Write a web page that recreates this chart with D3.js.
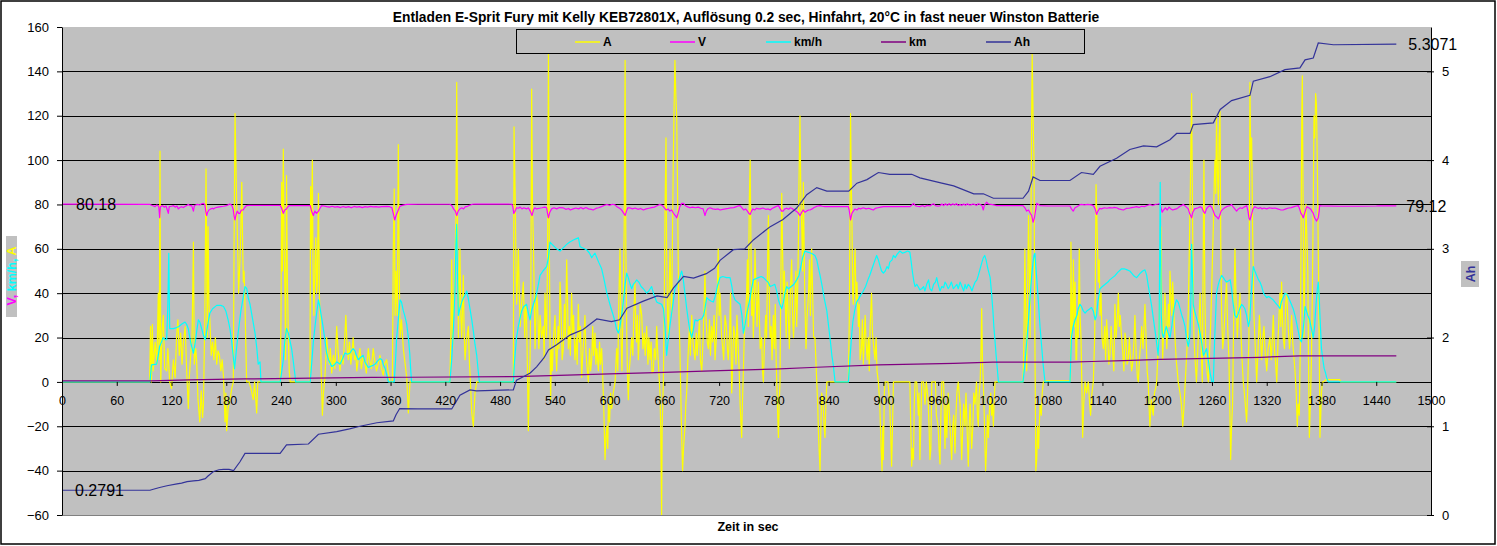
<!DOCTYPE html>
<html lang="de">
<head>
<meta charset="UTF-8">
<title>Entladen E-Sprit Fury</title>
<script src="https://cdn.jsdelivr.net/npm/d3@7"></script>
<style>
    body { margin: 0; background: #fff; }
    text { font-family: Arial, "Liberation Sans", sans-serif; }
</style>
</head>
<body>
<div id="chart"></div>
<script>
// time in sec
const ampData = [[0,0],[96,0],[97,25],[98,0],[99,26],[100,5],[102,18],[104,8],[105.5,40],[106.5,10],[107.4,104],[108.2,0],[109.5,22],[111,30],[112.5,6],[114.7,5],[116,15],[118,0],[120,-3],[122,10],[124,2],[125.5,20],[127,28],[128.5,12],[130,22],[131.5,8],[133,18],[135,25],[136.5,6],[138.4,-12],[139.5,2],[141,12],[142.5,20],[144,63],[145,8],[146.5,15],[147.5,10],[149,-8],[151,-18],[152.5,-4],[154,-16],[155,-10],[156.5,30],[157.8,96],[159.2,20],[160,70],[161,35],[162,28],[163.5,12],[165,18],[166.5,10],[168,20],[169.5,8],[171,14],[172.5,12],[174,5],[175.5,10],[177,2],[178.6,-18],[179.5,-5],[180.4,-22],[182,-12],[184,-8],[186,-3],[187.7,0],[188.5,60],[189.6,121],[190.5,100],[191.4,80],[192.5,60],[193.5,40],[195,55],[196,70],[197,90],[198,60],[198.7,45],[199.5,50],[200.5,35],[201.5,15],[202.3,0],[205,0],[207,-3],[209.6,-8],[211,0],[213.3,-14],[214.5,0],[239,0],[240,30],[240.7,90],[241.5,50],[242.5,105],[243.5,60],[244.3,40],[245,10],[246,93],[247,45],[248,20],[249,5],[250,0],[271.7,0],[272.4,88],[273.3,60],[274.3,100],[275,55],[276,30],[277,50],[278,65],[279,40],[279.8,45],[280.5,70],[281,85],[282,40],[283,25],[284,5],[285.3,-15],[286.5,-5],[288,2],[289,10],[290,20],[291.5,12],[293,8],[294,15],[295.5,4],[297.3,12],[299,6],[301,25],[302.5,14],[304.6,5],[306,12],[308,8],[309.5,18],[311,30],[312.5,15],[313.7,10],[315,18],[316.5,8],[318,14],[319,20],[320.5,10],[322,12],[323,5],[324.5,10],[326.5,15],[328,6],[330,12],[332,8],[333.5,4],[335.6,15],[337,10],[339,6],[341,15],[342.5,10],[344.6,5],[346.5,8],[348.4,12],[350,6],[352,3],[353.5,8],[355.7,10],[357.5,4],[359.4,0],[362,0],[363,60],[364,87],[365,30],[366,50],[367.4,30],[368.5,107],[369.5,50],[370.4,20],[372,28],[374,15],[376,8],[377.7,2],[379.5,-14],[381.3,0],[425,0],[426,20],[427,55],[428,15],[428.8,30],[430,45],[431.5,70],[432.5,135],[433.5,60],[434.3,20],[435.2,45],[436,60],[437,30],[438,20],[439.7,48],[440.5,25],[441.6,10],[443,18],[445.2,25],[446.5,8],[447.5,0],[449,-14],[450.7,-20],[452.5,-5],[454.4,0],[494.5,0],[495.3,115],[496.7,80],[497.5,50],[498.2,35],[499,45],[500,60],[501,40],[502,25],[503.5,35],[505.5,45],[507,20],[508,35],[509,30],[510,5],[511,-22],[511.8,0],[512.8,10],[513.7,40],[514.6,132],[515.5,80],[516.4,65],[517.4,40],[518.3,15],[519,25],[520,40],[521,35],[522.5,15],[523.8,30],[525.5,20],[527.4,25],[528.3,10],[529.2,40],[530,30],[531,20],[532,55],[533,148],[534,60],[534.7,20],[535.4,-8],[536.4,15],[537.3,5],[538.5,20],[540.2,30],[541,15],[542,5],[543.5,25],[544.5,15],[545.7,45],[547,30],[548,10],[549.3,15],[550.5,35],[551.5,20],[553,55],[554,35],[554.8,15],[556,25],[557,12],[558.4,40],[559.5,22],[560.5,30],[562,10],[563.5,20],[564.5,8],[565.7,35],[567,18],[568,25],[569.4,2],[570.5,12],[571.8,20],[573,30],[574,14],[575,8],[576.7,0],[578,15],[579.2,5],[580.4,10],[581.5,25],[582.5,12],[584,22],[585,8],[586,15],[587.7,5],[589,18],[590,8],[591.3,15],[592.5,2],[593.5,-10],[595,-35],[596,-25],[597,-20],[598,-30],[598.6,-10],[600,-18],[601,-5],[602.3,-12],[604,-5],[606,0],[607.7,15],[609,5],[610,35],[611.4,60],[612.5,20],[613.5,5],[615,40],[616,70],[617,145],[617.8,60],[618.7,25],[619.5,5],[620.5,-8],[621.5,5],[622.5,10],[624.2,20],[625.5,12],[626.5,30],[627.8,45],[628.7,25],[629.5,18],[630.5,30],[631.5,10],[632.5,20],[633.5,35],[635.2,30],[636.5,15],[638,22],[639,12],[640.6,25],[642,8],[643,20],[644.3,10],[645.5,18],[646.5,4],[648,5],[649,15],[650.5,10],[651.6,25],[652.5,15],[653.5,8],[655.2,-5],[656,-20],[657,-60],[657.6,-20],[658.9,0],[660,40],[660.8,80],[661.8,110],[662.5,60],[663.5,30],[664.4,20],[665.2,40],[666.2,60],[667,45],[668,30],[669,70],[669.8,100],[670.7,125],[671.6,145],[672.5,130],[673.5,120],[674.4,90],[675.3,50],[676,30],[677,15],[678,-5],[679,-25],[680,-40],[681,-30],[682.6,-20],[683.5,-10],[684.4,-5],[685.3,5],[686.3,15],[687.5,25],[688.5,12],[690,30],[691,20],[692,15],[693.6,10],[695,22],[696,12],[697.2,20],[698.5,28],[699.5,10],[701,5],[702.5,20],[703.5,35],[704.5,50],[705.5,30],[707,18],[708.2,15],[709.5,28],[710.5,12],[711.8,25],[713,18],[714.5,30],[715.5,10],[717,20],[718,40],[719,60],[720,30],[721,40],[722.8,20],[724,15],[725,10],[726.5,30],[728,25],[729,15],[730,10],[731.5,22],[732.5,40],[733.8,-5],[735,10],[736,25],[737.4,20],[738.5,8],[739.5,30],[741,15],[742,5],[743,-10],[744.7,-25],[745.5,-10],[746.6,5],[747.5,20],[749,30],[750.2,40],[751,55],[752,25],[753,80],[754,100],[754.8,65],[755.7,30],[756.5,45],[757.5,20],[758.5,35],[759.3,60],[760.5,40],[761.5,25],[763,45],[764,30],[765,15],[766.6,20],[767.5,5],[768.5,0],[769.5,15],[771,30],[772,20],[773,50],[774,75],[775,40],[775.8,20],[777,25],[778,10],[779.4,30],[780.5,15],[781.5,35],[782.5,10],[783.5,-5],[784.2,-15],[785,-25],[785.8,-10],[786.7,0],[787.5,40],[788.6,85],[789.5,60],[790.5,35],[791.5,50],[792.2,40],[793.5,20],[794.5,45],[795.8,30],[797,15],[798,40],[799.5,55],[800.5,30],[801.5,20],[803,35],[804,50],[805,25],[806,40],[806.8,60],[807.5,90],[808.6,120],[809.5,85],[810.5,70],[811.5,50],[812.3,90],[813.2,60],[814,35],[815.2,15],[816.5,30],[818,40],[819,55],[820,30],[821.4,60],[822.5,40],[823.5,20],[825,20],[826,10],[827,0],[828,-10],[829,-25],[830.6,-40],[831.5,-20],[832.4,-5],[834,-10],[835,-20],[836,-25],[837,-10],[838,0],[861.6,0],[862.7,30],[863.3,70],[864,121],[864.8,90],[865.6,70],[866.3,40],[867,35],[868,50],[869,60],[870,35],[871,45],[872.6,25],[873.5,35],[874.5,10],[876,15],[877,28],[878,8],[880,30],[881,18],[882.2,10],[883.5,20],[884.5,5],[885.5,25],[887,40],[888,22],[889.5,15],[890.8,10],[892,20],[893,5],[894.5,0],[896,-10],[897.5,-30],[898.5,-40],[899.3,-20],[900,-35],[901,-5],[901.8,0],[905,0],[907,-10],[909,-38],[910,-20],[911,0],[929,0],[930,-20],[931,-38],[932,-30],[933,-35],[933.8,-10],[934.7,0],[936.5,0],[938.3,-15],[939,-5],[940,-35],[941,-20],[942,0],[944,0],[945.6,-10],[947,0],[949,-8],[950,-20],[951,-35],[952,-30],[953,0],[957,0],[958,-15],[960,-20],[961,-30],[962,-37],[963,-15],[964,0],[966,0],[967.5,-30],[968.5,-10],[969.5,-25],[971,-5],[972.5,-15],[973.5,-25],[974.8,-35],[976,-20],[977,-15],[978.5,-32],[979.5,-15],[980.5,-5],[982,0],[984,-10],[985.8,-35],[987,-20],[988,-10],[989.4,-20],[990.5,-5],[992,-25],[993,-38],[994,-20],[995,-10],[996.7,-30],[998,-20],[999,-5],[1000.4,-10],[1002,0],[1003,-15],[1004,-20],[1005,-5],[1006,0],[1007,15],[1007.7,33],[1008.5,10],[1009.5,0],[1010.5,-15],[1011.3,-30],[1012,-40],[1013,-30],[1014,-15],[1015,-25],[1016.5,-10],[1017.6,-5],[1018.5,-15],[1019.5,-10],[1020.5,-20],[1021.5,-8],[1022.3,0],[1053,0],[1054,20],[1055,60],[1056,30],[1057,5],[1058,40],[1059,75],[1060,50],[1060.7,20],[1061.5,60],[1062.3,110],[1063,148],[1064,120],[1065,100],[1065.8,30],[1066.5,-10],[1067,-40],[1068,-35],[1069,-20],[1070,-30],[1071.6,-10],[1073,-15],[1074,-5],[1075.3,0],[1077,0.5],[1105,0.5],[1105.5,63],[1106.4,20],[1107.3,30],[1108.2,55],[1109,25],[1110,45],[1111,10],[1111.7,10],[1112.5,30],[1113.5,20],[1114.6,60],[1115.5,30],[1116.5,20],[1117.4,0],[1118.3,-25],[1119.5,-10],[1121,0],[1122.5,-5],[1124.5,0],[1126,-10],[1127,-15],[1128.5,-5],[1130,0],[1131.5,20],[1132.3,50],[1133,89],[1134.4,65],[1135.5,45],[1136.5,55],[1137.3,30],[1138.5,40],[1139.5,20],[1141,15],[1142.5,25],[1143.5,10],[1144.6,28],[1146,18],[1147,8],[1148.2,12],[1149.5,25],[1151,15],[1152.5,5],[1153.7,35],[1155,20],[1156.5,30],[1157.4,40],[1158.5,25],[1159.5,30],[1161,20],[1162.5,12],[1163.5,5],[1164.7,22],[1166,18],[1167,8],[1168.3,10],[1169.5,20],[1170.5,12],[1172,5],[1173,8],[1174.5,18],[1175.6,30],[1177,12],[1178.3,2],[1179.3,0],[1180.5,10],[1182,18],[1183,25],[1184.5,15],[1185.5,25],[1186.6,35],[1187.8,20],[1189,5],[1190.2,0],[1191,-10],[1192,-20],[1193.5,-8],[1194.5,-12],[1195.7,-15],[1197,-5],[1198.2,-3],[1199.4,0],[1200.5,10],[1201.5,20],[1202.3,30],[1203.2,50],[1204,70],[1205,35],[1206,10],[1207.2,25],[1208.5,40],[1209.5,30],[1210.5,15],[1211,20],[1212.3,35],[1213.2,25],[1214,50],[1215,40],[1216,30],[1217,45],[1218.3,30],[1219.5,20],[1220.8,10],[1222,5],[1223,0],[1225,-5],[1226.5,-10],[1228,-20],[1229.5,-10],[1230.7,0],[1232,10],[1233.3,20],[1234.2,35],[1235,55],[1236.4,90],[1237.7,130],[1238.6,80],[1239.5,40],[1240.3,20],[1241.5,10],[1243,0],[1244.5,15],[1246,30],[1247,40],[1248.3,15],[1249.4,0],[1250.3,50],[1251.2,100],[1252.2,40],[1253.4,10],[1254.5,5],[1256,0],[1257.5,15],[1258.5,25],[1259.6,40],[1260.5,55],[1261.5,70],[1262.5,90],[1263.3,100],[1264.2,85],[1265,120],[1266,95],[1267,80],[1267.8,110],[1268.8,122],[1269.7,60],[1270.6,30],[1271.8,15],[1273,20],[1274.5,35],[1276,45],[1277.2,25],[1278.6,10],[1279.5,-10],[1280.5,-35],[1281.5,-20],[1282.6,-10],[1283.5,20],[1284.3,40],[1285.2,60],[1286.5,35],[1287.8,20],[1289,30],[1290.7,40],[1292,20],[1293,10],[1294.3,0],[1295.5,-5],[1296.5,-10],[1298,-18],[1299,-5],[1300.5,20],[1301.1,80],[1301.6,135],[1302.5,100],[1303.5,110],[1304.5,70],[1306,30],[1307.5,15],[1309,0],[1310.5,15],[1312,30],[1313.2,20],[1314.4,10],[1315.7,20],[1317,25],[1318.5,12],[1320,5],[1321.5,15],[1323.5,20],[1325,10],[1326,18],[1327.2,30],[1328.5,15],[1329.8,8],[1331,0],[1332.5,20],[1333.5,30],[1334.5,40],[1335.5,25],[1336.3,45],[1337.2,30],[1338,20],[1339.5,15],[1340.7,35],[1342,40],[1343.5,25],[1345,15],[1346,20],[1347.3,30],[1348.5,18],[1350,10],[1351,5],[1352.3,-5],[1353.5,-20],[1354.5,-10],[1355.7,-15],[1356.4,5],[1357,20],[1357.8,80],[1358.4,120],[1359,138],[1360,70],[1360.8,20],[1361.8,50],[1363,80],[1364,65],[1365,50],[1365.8,10],[1366.7,-25],[1367.8,-10],[1369,10],[1370,40],[1371,80],[1371.8,120],[1372.7,110],[1373.6,130],[1374.5,125],[1375.4,100],[1376.2,70],[1377,40],[1377.7,10],[1378.3,-25],[1379.2,-15],[1380,-5],[1381,0],[1382,0],[1385,1],[1400,1],[1401,0],[1462,0]];

const voltData = [[0,80.18],[96.4,80.0],[99,79.5],[102,79],[104,79.8],[106,79.2],[107,74],[107.8,79],[110,79.5],[112,78.8],[114,79.3],[116.5,76],[117.5,79],[120,79.2],[122,79.5],[124,78.8],[126,79.3],[127.5,78],[129,78.6],[131,79],[133,78.6],[135,79.2],[137,79.6],[138.4,80],[140,79.5],[142,79.6],[144,77],[145,79.5],[148,80],[151,79.8],[153,80.3],[155,80.5],[156.5,80],[157.5,77],[158.5,75],[159.5,76.5],[161,77.5],[163,78],[165,78.3],[166,78],[168,78.5],[171,78.8],[174,79],[177,79.2],[180,79.5],[182,79.8],[184,80.2],[186,79.6],[187.5,78],[188.5,75],[189.5,73],[190.5,75],[192,77],[193.5,76],[195,76],[196.5,77.5],[198.5,77.5],[200,78.5],[202,79.5],[205,79.6],[239,79.6],[240.5,78.5],[242.5,76],[244,77.5],[246,78],[247.5,79],[249,79.5],[272,79.5],[273.5,77],[275.4,75],[277,77],[279,76],[281,77],[283,78.5],[284.5,79.5],[287,79.3],[290,79],[293,78.8],[296,79.2],[299,78.8],[302,79],[305,78.6],[308,79.1],[311,78.7],[314,79],[317,78.5],[320,79.1],[323,78.8],[326,79],[329,78.6],[332,79],[335,78.8],[338,79.1],[341,78.9],[344,79],[347,78.8],[350,79],[356,79.1],[359,79],[361.5,78.5],[363,76],[364.5,73],[366,75],[368,77],[370,79],[372,79.5],[375,79.8],[378,80],[390,80.1],[425,80.1],[427,79.5],[429,78],[431,77],[432.5,75],[434,77],[436,78],[438,78.5],[440,78],[442,79],[443.4,79],[446,79.5],[449,80],[452.5,80.2],[493,80.1],[494,79],[495,76],[496.5,77],[498,78.5],[500,78.3],[502,78.8],[504,78],[506,78.5],[509,78],[511,78.5],[513,77],[515,75],[516.5,77.5],[518,78.5],[520,78],[523,78.3],[526,78.5],[529,78.8],[531,78.5],[532,76],[533,74],[534.5,76.5],[536.5,78],[539,78.5],[542,78],[545,78.6],[549,78.5],[552,77.8],[555,78.2],[557,77.5],[560,78],[563,78.4],[566,78],[568.5,78.6],[571,78],[574,78.6],[577,78],[580,77.8],[582,77.5],[585,78.2],[588,78.5],[591,79],[594,79.6],[597,80],[600,79.6],[603,80.1],[606,79.8],[608,79],[610,78.5],[612,78],[614,77],[615.5,76],[617,75],[618.5,77],[620,78.5],[622,78.5],[625,78],[628,78.4],[631,77.8],[634,78.2],[637,77.5],[640,78],[643,78.3],[646,78.6],[649,78.8],[652,79.4],[655,80],[658,79.5],[660,78.5],[662,77.5],[664,78],[666,77],[668,77.5],[670,76],[672,75],[673.5,74],[675,76],[677,79],[679,80.5],[681,80.5],[683,79.5],[685,79],[688,78.5],[691,78.8],[694,78.5],[697,78.8],[700,78.3],[702.5,78],[704.5,75],[706,77],[708,78.2],[710,78.5],[713,78],[716,77.8],[719,78],[721,77.5],[724,77.8],[727,78],[730,78.2],[733,78.5],[736,78.6],[739,79],[741,79.4],[743,79.5],[745,78.5],[747,77.5],[749,78],[751,77],[752.5,76],[754,75.5],[755.5,77],[757,78],[759,77.5],[761,78.3],[763,78],[765,78],[768,78.4],[771,77.8],[774,78],[776,77.5],[778,78.2],[781,78.8],[783,79.2],[785,79.5],[787,78],[788.5,77],[790,77],[792,78],[794,78.3],[796,77.8],[798,78.5],[800,78.2],[802,77.5],[804,77],[806,76.5],[808.7,75],[810.5,76.5],[812,77.5],[814,76.5],[816,77],[818,77.5],[819.6,77.5],[822,78],[824,78.6],[826,79],[828,79.3],[830.6,79.5],[833,79.2],[836,79],[861.6,79],[862.5,77.5],[864,73],[865.5,76],[867,77],[869,78],[871,77.5],[873,78.3],[875,78],[878,78.5],[881,78],[884,78.3],[887,77.8],[889,77.5],[891,78.2],[894,78.5],[897,78.8],[900,79],[929,79],[930.5,79.5],[933,80.5],[935,79.5],[937,79.2],[940,79],[943,79.5],[945,79],[948,79.6],[951,79.3],[953,80],[955,80.3],[957,79.5],[960,79.2],[962,79.4],[964,80.2],[966,79.5],[968,80.3],[970,79.6],[972,80.4],[974,79.6],[976,80.3],[978,79.7],[980,80.4],[982,79.5],[984,80],[986,79.6],[988,80.2],[990,79.6],[992,80.3],[994,79.8],[996,79.8],[998,80.2],[1000,80],[1002,79.6],[1004,80.3],[1006,80],[1008,79.5],[1009.5,77.5],[1010.5,79.5],[1013,81],[1015,80.2],[1018,80],[1021,79.8],[1024,79.5],[1053,79.5],[1055,78.5],[1057,77],[1059,77.5],[1061,76],[1062.5,75],[1064,72],[1065.5,74],[1067,78],[1068,80.5],[1070,80],[1071.6,79.5],[1080,79.3],[1104.4,79.3],[1106,78],[1108,77],[1110,78.5],[1112,79],[1115,79.8],[1117,80],[1120,79.8],[1124,80],[1128,79.8],[1130,79.5],[1132,78],[1133.6,75.5],[1135,77],[1137,78.2],[1139,78],[1142,78.5],[1145,78.3],[1148,78.6],[1151,78.4],[1153,78.7],[1155.5,78.5],[1158,78],[1160,77.8],[1163,77.5],[1166,78.2],[1169,78.3],[1172,78.6],[1175,78.8],[1177.5,79],[1180,78.6],[1183,79.2],[1186,79],[1189,79.5],[1192,80],[1195,79.5],[1198,80],[1201,80.2],[1203,80.5],[1204.5,78],[1205.5,76.5],[1207,77.5],[1209,78.5],[1211,77.5],[1213,78.8],[1215,78],[1217,77.5],[1219,77.8],[1221,78],[1223,78.5],[1225,79.2],[1227,79.6],[1228.6,80],[1230,79.5],[1232,78.8],[1234,78],[1235.5,76],[1237.7,74],[1239,76.5],[1241,78],[1245,78.5],[1247,79],[1249,78.5],[1250.5,77],[1252.3,76],[1254,78],[1256,79],[1258,79.5],[1260,78.5],[1261.5,77],[1263.3,75],[1265,74.5],[1267,73.5],[1268.5,75],[1270,77],[1272.4,78],[1274,78.5],[1276,79],[1278,79.3],[1280,79.5],[1281.5,80],[1283,79],[1285,78],[1287,77],[1289,78],[1291,78.5],[1293,78.2],[1295,78.8],[1297,79.2],[1298,79.5],[1299.5,77],[1300.5,74],[1301.6,73],[1303,75],[1305,78],[1307,79],[1309,78.5],[1311,78.2],[1313,78.6],[1315,78],[1317,78.4],[1320,78],[1323,78.5],[1326,78.2],[1329,78.4],[1332,78],[1335,77.6],[1338,77.5],[1341,78],[1344,78.4],[1347,78.6],[1350,79],[1352.5,79.3],[1354.6,79.5],[1356,78],[1357.5,76],[1359,75],[1360,74],[1361.5,76],[1363,78],[1364,79],[1366,78.5],[1368,78],[1369.5,77],[1371,76],[1372.5,74],[1374.7,72.5],[1376.5,74],[1377.5,77],[1378,79.5],[1380,79.4],[1400,79.2],[1420,79.2],[1440,79.3],[1444,79.4],[1462,79.4]];

const speedData = [[0,0],[96.5,0],[98,7.7],[103.7,8],[105.5,12],[107,16],[109,18],[111,20],[113,19],[114.7,19],[116,35],[117,58],[118,24],[122,24],[125.6,24.5],[128,25],[131,26],[134.8,27],[136.5,26],[138.4,24],[140,20],[142,16],[144,13],[146,18],[148,24],[149.4,28],[151,27],[153,24],[155,21],[157,19],[159,24],[162,31],[165,33],[169.5,34.5],[174,34.5],[177,34],[179.5,32],[182,28],[184,24],[186,18],[187.5,12],[189,6],[191,14],[193,22],[196,32],[198.5,38],[200.5,43],[202.5,42],[204,38],[206,35],[209,28],[211.5,22],[213.5,15],[215,8],[217,9],[218,0],[239,0],[240.5,4],[242.5,10],[244,18],[246,24],[248,22],[250,18],[251.6,15],[253.5,9],[255.3,3],[256,0],[272,0],[273.5,8],[275.4,18],[277.5,26],[279,31],[281,37],[282.5,34],[284,30],[286,25],[288,19],[290,13],[292,10],[295.5,7],[298,7.5],[301,9],[303,8.5],[304.6,8],[307,10],[310,13],[313,12.5],[315.6,13],[317,14],[319,15],[321,14],[322.5,12],[324.7,10],[327,11],[330,12],[332,9],[335.6,6.5],[338,7],[341,7.5],[343,8],[346,9.5],[348.4,10.5],[350.5,10],[352,8],[354,6],[356,3],[357.6,0],[364,0],[365.5,10],[366.7,20],[368.5,28],[370.4,37],[372,36],[374,32],[375.5,30],[377.7,26],[379.5,20],[381,13],[382,6],[383,0],[425,0],[427,10],[429,25],[430.5,40],[431.5,60],[432.5,71],[433.3,50],[434.3,30],[436,33],[438,36],[440,38],[441.5,39],[443.4,41],[445,38],[447,33],[449,28],[451,22],[452.5,17],[454.4,12],[456,5],[457.3,0],[494.5,0],[496,10],[498,20],[500,25],[502,29],[503.7,32],[506,34],[509,35],[511,31],[512.8,28],[514.5,32],[516.5,35],[519,38],[521.5,43],[523.8,48],[527,50],[531,52],[533,56],[534.7,63],[537,62],[539.5,61],[542,60],[544,59.5],[545.7,59],[548,60],[550.5,61],[553,62],[556,63],[560.3,64],[563,64.5],[565.8,65],[567.6,61],[570,60.5],[572.5,60],[575,59.5],[578,58],[580.4,56],[582,57],[584,58],[586,56],[588,54],[591.3,51],[593.5,47],[595.5,43],[597,40],[599,37],[601,34],[604,30],[606,27],[607.5,24],[609.6,22],[611,24],[613.2,30],[615,36],[617,44],[618.7,49],[620.5,47],[622.5,44],[624.2,42],[626,44],[628,45],[629.7,46],[632,45],[634.5,43],[637,42],[640.6,40],[643,41],[646,43],[648,40],[651.6,36],[654,35.5],[657,35],[659,33],[660.7,25],[662.5,12],[664,18],[666,25],[668,31],[670,37],[671.7,42],[674,44],[676,46],[679,50],[680.5,47],[682.5,40],[684.5,33],[686.5,27],[688,23],[690,20],[691.5,23],[693.6,28],[696,27.5],[698,28],[701,28.5],[703,30],[704.5,33],[706.4,38],[709,37],[711,36.5],[713.7,36],[716,39],[718,43],[721,47],[724,47.5],[728,47],[732,47],[734,43],[735.5,39],[737.4,37],[740,36],[743,35],[745,30],[746.6,22],[748.5,26],[750,30],[752,34],[754,38],[755.5,42],[757.5,46],[760,46.5],[763,47],[766,47.5],[768.5,47],[771,46],[773.5,45],[776,43],[778.5,43.5],[781,44],[783,41],[785,37],[786.5,35],[788.6,33],[790.5,36],[792,40],[794,43],[796,42],[799,43],[802,44],[805,46],[807.5,48],[809.5,52],[811.5,56],[814,59],[817,58.5],[821,58],[825,57],[827,55],[829,51],[830.6,48],[833,43],[835,38],[838,32],[840,25],[842,18],[843.5,12],[845,8],[847,0],[861.6,0],[863,8],[865,20],[866.5,27],[868.5,32],[870.7,36],[873,37.5],[875,39],[878,41],[880.5,43],[883,46],[885,48],[887.5,51],[890,54],[892.6,57],[894.5,55],[896.5,52],[898,50],[900,49],[902,50],[904,52],[905.5,51],[907,54],[909.5,55],[911,57],[913,56],[915,57.5],[918,59],[921,58],[924,58.5],[926.5,59],[929,58.5],[930.5,54],[932,49],[933.5,45],[934.7,43],[936.5,44],[938,43],[940,41.5],[942,42],[944,43],[945.5,41],[947.4,44],[949.5,46],[951,42],[953,41],[955,44],[957,45],[958.4,47],[960,44],[962,41],[964,43],[966,42.5],[967.5,45],[969,44],[971,42],[972.5,43],[974.5,45],[976.7,42],[978.5,43],[980.5,44],[982,42],[984,45],[986,43],[988,41],[989.5,44],[991,42],[993,44],[995,43],[997,41],[998.6,43],[1000.5,45],[1002.5,46],[1004,48],[1006,51],[1008,54],[1009.5,56],[1011,57],[1012.5,55],[1014.5,51],[1017,47],[1018.5,40],[1020,32],[1021,25],[1022,20],[1023.5,12],[1025,5],[1026,0],[1053,0],[1055,8],[1057,18],[1059,28],[1061,40],[1062.5,48],[1064,54],[1065,57],[1066,58],[1067,52],[1068.5,44],[1070,35],[1071.6,25],[1073,18],[1075,8],[1077,0],[1104.5,0],[1106,20],[1108,25],[1110,28],[1112,30],[1113.5,33],[1115.4,35],[1117,34],[1119,32],[1121,31],[1123,32],[1126.3,33],[1128,33.5],[1130,32],[1132,28],[1133.5,30],[1135,36],[1137.3,42],[1140,43],[1143,44],[1146,45],[1148,46],[1151,47],[1154,48],[1157,49.5],[1161,51],[1164,51],[1167,50.5],[1170,50],[1172,49],[1174,48],[1175.5,47.5],[1177.5,47],[1179.5,48],[1181.5,49],[1184,50],[1186.6,50.5],[1188.5,48],[1190,44],[1192,39],[1194,34],[1196,28],[1198,22],[1199.5,17],[1201,12],[1202,20],[1202.8,60],[1203.3,90],[1203.8,60],[1204.5,30],[1205.5,22],[1206.7,20],[1208,22],[1210,25],[1212,22],[1214,20],[1216,25],[1217.5,30],[1219,34],[1221,37],[1223,36],[1225,33],[1227,30],[1228.6,28],[1230.5,25],[1232,20],[1234,16],[1235,18],[1236,22],[1237,40],[1237.7,62],[1238.5,50],[1239.5,35],[1241,32],[1243,29],[1245,26],[1247,22],[1249,17],[1250.5,12],[1252,13],[1254,15],[1256,10],[1258,4],[1260,0],[1261.5,0],[1263,20],[1265,40],[1267,44],[1268.5,46],[1270.6,48],[1272.5,47],[1274,46],[1276,45],[1278,45.5],[1280,46],[1281.5,42],[1283,36],[1285,30],[1287,29],[1289,31],[1290.5,33],[1292.5,35],[1294.5,34],[1296,33],[1298,30],[1300,25],[1301.5,28],[1303,40],[1304.5,48],[1305.3,52],[1307,50],[1309,48],[1311,46],[1312.6,45],[1314.5,43],[1316.5,40],[1318,39],[1320,38],[1322,38.5],[1324,38],[1327,37],[1329,36],[1331,35],[1333,34],[1334.5,33],[1336,36],[1338,38],[1340,40],[1342,39.5],[1344,38],[1345.5,36.5],[1347,35],[1349,33],[1351,30],[1353,26],[1355,22],[1356.5,19],[1358,18],[1359.5,22],[1361,28],[1362,34],[1363.5,32],[1365,30],[1367,28],[1369,24],[1371,20],[1372.5,25],[1374,35],[1375.5,42],[1376.5,45],[1377.5,38],[1378.5,28],[1380,15],[1381.5,10],[1383,6],[1384.5,4],[1385.6,2],[1387.5,0],[1462,0]];

const kmData = [[0,0.5],[97,0.5],[139,0.9],[200,1.35],[340,2.0],[380,2.1],[495,2.4],[535,2.86],[600,3.6],[660,4.3],[721,5.1],[780,5.8],[827,6.6],[894,7.7],[977,8.4],[1020,8.9],[1105,8.9],[1128,9.2],[1163,9.6],[1203,10.2],[1272,10.7],[1313,11.1],[1356,11.7],[1462,11.7]];

const ahData = [[0,0.2791],[96.4,0.279],[100,0.29],[107,0.31],[115,0.33],[126,0.35],[131,0.36],[137,0.376],[144,0.385],[150,0.39],[157,0.41],[160,0.44],[166,0.49],[172,0.51],[177,0.515],[183,0.515],[188,0.50],[195,0.6],[200.5,0.695],[239,0.695],[246,0.79],[270,0.80],[281,0.91],[301,0.94],[315,0.97],[326.5,1.0],[345,1.04],[363,1.06],[366,1.13],[370,1.2],[390,1.195],[427,1.195],[432,1.28],[436,1.35],[447,1.41],[454,1.40],[494.5,1.41],[498,1.52],[506,1.56],[513,1.60],[520,1.67],[528,1.77],[533,1.86],[542,1.92],[557,2.03],[571,2.09],[586,2.21],[602,2.18],[611,2.2],[619,2.33],[637,2.41],[652,2.47],[663,2.45],[670,2.56],[681,2.69],[692,2.67],[706,2.72],[715,2.78],[721,2.87],[735.6,2.99],[748,3.0],[757.5,3.10],[776,3.25],[790,3.33],[805,3.46],[816,3.61],[827,3.69],[838,3.65],[862,3.65],[871,3.74],[882,3.78],[894.5,3.86],[907,3.84],[931,3.84],[940,3.80],[964,3.74],[977,3.71],[999,3.62],[1009.5,3.62],[1020.5,3.57],[1053,3.57],[1059,3.65],[1064,3.81],[1071.6,3.77],[1104.4,3.77],[1117,3.86],[1130,3.84],[1137.3,3.93],[1155.5,4.02],[1170,4.12],[1185,4.16],[1199.4,4.15],[1214,4.23],[1221.3,4.30],[1236,4.30],[1239.5,4.40],[1261.5,4.42],[1269,4.57],[1281.5,4.67],[1301.6,4.73],[1305.3,4.89],[1323.5,4.94],[1340,5.02],[1356.4,5.04],[1362,5.13],[1371,5.15],[1376.5,5.32],[1393,5.30],[1462,5.3071]];

const leftTicks = [-60, -40, -20, 0, 20, 40, 60, 80, 100, 120, 140, 160];
const rightTicks = [0, 1, 2, 3, 4, 5];
const xTicks = [0, 60, 120, 180, 240, 300, 360, 420, 480, 540, 600, 660, 720, 780, 840, 900, 960, 1020, 1080, 1140, 1200, 1260, 1320, 1380, 1440, 1500];
const seriesNames = ['A', 'V', 'km/h', 'km', 'Ah'];
const seriesColors = ['#ffff00', '#ff00ff', '#00ffff', '#800080', '#333399'];
const valueLabels = ['80.18', '0.2791', '5.3071', '79.12'];

const w = 1497, h = 546;
const pl = 62, pr = 1431, pt = 27, pb = 515;

const svg = d3.select('#chart').append('svg')
    .attr('width', w).attr('height', h);

// outer frame
svg.append('rect')
    .attr('x', 1).attr('y', 1).attr('width', w - 3).attr('height', h - 3)
    .attr('fill', '#fff').attr('stroke', '#000').attr('stroke-width', 1.5);

const x = d3.scaleLinear().domain([0, 1500]).range([pl, pr]);
const yL = d3.scaleLinear().domain([-60, 160]).range([pb, pt]);
const yR = d3.scaleLinear().domain([0, 5.5]).range([pb, pt]);

// plot area
svg.append('rect')
    .attr('x', pl).attr('y', pt).attr('width', pr - pl).attr('height', pb - pt)
    .attr('fill', '#c0c0c0');
svg.append('line')
    .attr('x1', pl).attr('x2', pr).attr('y1', pb + 0.5).attr('y2', pb + 0.5)
    .attr('stroke', '#808080');

// gridlines
svg.append('g').selectAll('line')
    .data(leftTicks.filter(d => d > -60 && d < 160))
    .enter().append('line')
    .attr('x1', pl).attr('x2', pr)
    .attr('y1', d => Math.round(yL(d)) + 0.5).attr('y2', d => Math.round(yL(d)) + 0.5)
    .attr('stroke', '#000').attr('stroke-width', 1);

svg.append('defs').append('clipPath').attr('id', 'clip')
    .append('rect').attr('x', pl).attr('y', pt).attr('width', pr - pl).attr('height', pb - pt);

const plot = svg.append('g').attr('clip-path', 'url(#clip)');
const lineL = d3.line().x(d => x(d[0])).y(d => yL(d[1]));
const lineR = d3.line().x(d => x(d[0])).y(d => yR(d[1]));

const series = [ampData, voltData, speedData, kmData];
series.forEach((s, i) => {
    plot.append('path').datum(s)
        .attr('d', lineL)
        .attr('fill', 'none')
        .attr('stroke', seriesColors[i])
        .attr('stroke-width', 1.2)
        .attr('stroke-linejoin', 'round');
});
plot.append('path').datum(ahData)
    .attr('d', lineR)
    .attr('fill', 'none')
    .attr('stroke', seriesColors[4])
    .attr('stroke-width', 1.2);

// left axis
const gL = svg.append('g')
    .attr('transform', `translate(${pl},0)`)
    .call(d3.axisLeft(yL).tickValues(leftTicks).tickSize(5).tickSizeOuter(0).tickPadding(8).tickFormat(d3.format('d')));
// right axis
const gR = svg.append('g')
    .attr('transform', `translate(${pr},0)`)
    .call(d3.axisRight(yR).tickValues(rightTicks).tickSize(3).tickSizeOuter(0).tickPadding(8).tickFormat(d3.format('d')));
gR.selectAll('.tick line').attr('x1', -4);
// x axis on the zero line
const gX = svg.append('g')
    .attr('transform', `translate(0,${yL(0)})`)
    .call(d3.axisBottom(x).tickValues(xTicks).tickSize(4).tickSizeOuter(0).tickPadding(10).tickFormat(d3.format('d')));
gX.select('.domain').remove();

[gL, gR, gX].forEach(g => {
    g.selectAll('text').attr('font-size', 12.5).attr('fill', '#000')
        .style('font-family', 'Arial, "Liberation Sans", sans-serif');
    g.selectAll('line').attr('stroke', '#000');
    g.select('.domain').attr('stroke', '#000');
});
gL.selectAll('text').attr('font-size', 13);
gR.selectAll('text').attr('font-size', 13);

// value labels at first / last points
const labelPos = [
    [x(voltData[0][0]) + 14, yL(voltData[0][1])],
    [x(ahData[0][0]) + 13, yR(ahData[0][1])],
    [x(ahData[ahData.length - 1][0]) + 12, yR(ahData[ahData.length - 1][1])],
    [x(voltData[voltData.length - 1][0]) + 10, yL(voltData[voltData.length - 1][1])]
];
valueLabels.forEach((l, i) => {
    svg.append('text')
        .attr('x', labelPos[i][0]).attr('y', labelPos[i][1] + 6)
        .attr('font-size', 16).attr('fill', '#000')
        .text(l);
});

// title
svg.append('text')
    .attr('x', 746).attr('y', 22)
    .attr('text-anchor', 'middle')
    .attr('font-size', 13.8).attr('font-weight', 'bold')
    .text('Entladen E-Sprit Fury mit Kelly KEB72801X, Auflösung 0.2 sec, Hinfahrt, 20°C in fast neuer Winston Batterie');

// x title
svg.append('text')
    .attr('x', 748).attr('y', 531)
    .attr('text-anchor', 'middle')
    .attr('font-size', 12.5).attr('font-weight', 'bold')
    .text('Zeit in sec');

// left axis title
svg.append('rect').attr('x', 6).attr('y', 236).attr('width', 11).attr('height', 81).attr('fill', '#c0c0c0');
const lt = svg.append('text')
    .attr('transform', 'translate(16,276) rotate(-90)')
    .attr('text-anchor', 'middle')
    .attr('font-size', 12.5).attr('font-weight', 'bold');
lt.append('tspan').attr('fill', '#ff00ff').text('V, ');
lt.append('tspan').attr('fill', '#00ffff').text('km/h, ');
lt.append('tspan').attr('fill', '#ffff00').text('A');

// right axis title
svg.append('rect').attr('x', 1461).attr('y', 261).attr('width', 18).attr('height', 26).attr('fill', '#c0c0c0');
svg.append('text')
    .attr('transform', 'translate(1475,274) rotate(-90)')
    .attr('text-anchor', 'middle')
    .attr('font-size', 12.5).attr('font-weight', 'bold')
    .attr('fill', '#333399')
    .text('Ah');

// legend
const lg = svg.append('g');
lg.append('rect')
    .attr('x', 516.5).attr('y', 29.5).attr('width', 568).attr('height', 24)
    .attr('fill', '#c0c0c0').attr('stroke', '#000').attr('stroke-width', 1);
const legX = [575, 670, 766, 881, 986];
seriesNames.forEach((n, i) => {
    lg.append('line')
        .attr('x1', legX[i]).attr('x2', legX[i] + 25)
        .attr('y1', 42).attr('y2', 42)
        .attr('stroke', seriesColors[i]).attr('stroke-width', 1.5);
    lg.append('text')
        .attr('x', legX[i] + 28).attr('y', 46)
        .attr('font-size', 12).attr('font-weight', 'bold')
        .text(n);
});
</script>
</body>
</html>
